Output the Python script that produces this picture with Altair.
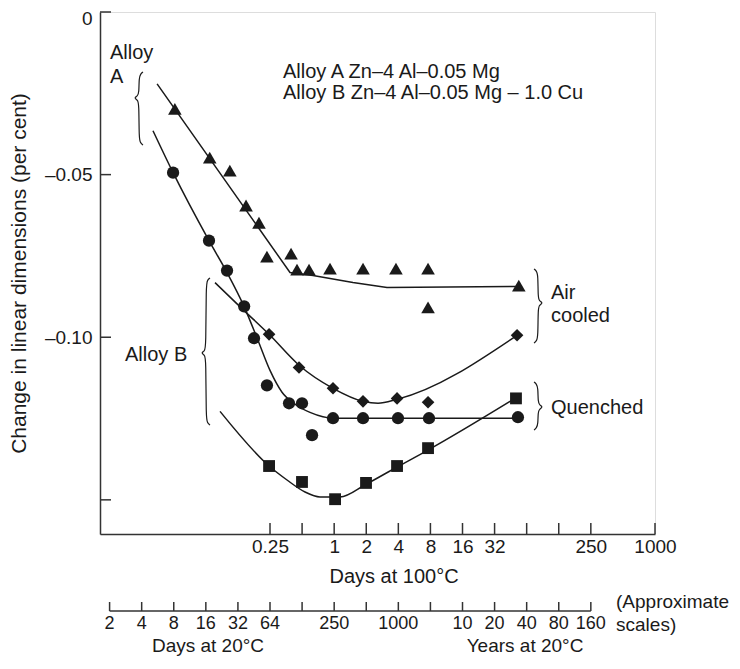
import altair as alt
import pandas as pd

# ---------------- data ----------------
# x: days at 100 degC, y: change in linear dimensions (per cent)
# Alloy A (air cooled) - triangles
tri_x = [0.032, 0.068, 0.105, 0.149, 0.197, 0.234, 0.394, 0.448, 0.581, 0.914, 1.865, 3.8, 7.6, 7.6, 54]
tri_y = [-0.0298, -0.0448, -0.0488, -0.0595, -0.0648, -0.0752, -0.0743, -0.0792, -0.0792,
         -0.0789, -0.0789, -0.0789, -0.0789, -0.0908, -0.0841]
lineA_x = [0.0218, 0.385, 0.633, 1.50, 3.13, 54.3]
lineA_y = [-0.0221, -0.0801, -0.0810, -0.0832, -0.0847, -0.0844]

# Alloy B quenched - circles
cir_x = [0.0308, 0.0669, 0.0988, 0.143, 0.177, 0.234, 0.377, 0.499, 0.62, 0.975, 1.865, 3.97, 7.76, 53]
cir_y = [-0.0494, -0.0703, -0.0795, -0.0905, -0.1003, -0.1148, -0.1203, -0.1203, -0.1301,
         -0.1249, -0.1249, -0.1249, -0.1249, -0.1246]
lineC_x = [0.01995, 0.0308, 0.0669, 0.0988, 0.1426, 0.193, 0.25, 0.324, 0.429, 0.593, 1.0, 53]
lineC_y = [-0.0365, -0.0494, -0.0703, -0.0801, -0.0905, -0.1010, -0.1102, -0.1169, -0.1206,
           -0.1231, -0.1249, -0.1249]

# Alloy B air cooled - diamonds
dia_x = [0.245, 0.468, 0.975, 1.865, 3.89, 7.6, 52]
dia_y = [-0.0991, -0.1093, -0.1157, -0.1197, -0.1188, -0.1200, -0.0994]
lineD_x = [0.0762, 0.1395, 0.245, 0.468, 0.975, 1.865, 2.58, 3.89, 52]
lineD_y = [-0.0832, -0.0915, -0.0991, -0.1086, -0.1157, -0.1197, -0.1203, -0.1191, -0.0994]

# Alloy B quenched (second set) - squares
sq_x = [0.245, 0.499, 1.02, 1.99, 3.89, 7.6, 50.8]
sq_y = [-0.1396, -0.1445, -0.1498, -0.1448, -0.1396, -0.1341, -0.1188]
lineS_x = [0.0849, 0.245, 0.361, 0.533, 0.736, 1.134, 1.99, 3.89, 7.6, 49.8]
lineS_y = [-0.1228, -0.1396, -0.1439, -0.1476, -0.1491, -0.1491, -0.1452, -0.1399, -0.1347, -0.1188]

# axis ticks / labels
y_tick_values = [0, -0.05, -0.10, -0.15]
y_label_values = [0, -0.05, -0.10]
x100_tick_values = [0.25, 0.5, 1, 2, 4, 8, 16, 32, 64, 128, 256, 1024]
x100_label_values = [0.25, 1, 2, 4, 8, 16, 32, 256, 1024]
x20_tick_values = [1/128, 1/64, 1/32, 1/16, 1/8, 1/4, 1/2, 1, 2, 4, 8, 16, 32, 64, 128, 256]
x20_label_pos = [1/128, 1/64, 1/32, 1/16, 1/8, 1/4, 1, 4, 16, 32, 64, 128, 256]
x20_labels = ["2", "4", "8", "16", "32", "64", "250", "1000", "10", "20", "40", "80", "160"]

# ---------------- layout helpers (style, not data) ----------------
XMIN, XMAX = 0.00635, 1024
YMIN, YMAX = -0.1605, 0.0
W, H = 555, 522
TOP = 12          # page y of the plot top
X025 = 270        # page x of the 0.25-day position
PXD = W / 17.30   # pixels per doubling on x
PXU = H / 0.1605  # pixels per unit on y


def ox(d, px):
    """offset a day value by px pixels along the log axis"""
    return d * 2 ** (px / PXD)


def vx(px):
    return ox(0.25, px - X025)


def vy(py):
    return YMAX - (py - TOP) / PXU


FONT = "Liberation Sans"
FS = 20      # annotation text
FT = 19      # tick labels
INK = "#1a1a1a"
AX = "#333333"

xs = alt.Scale(type="log", domain=[XMIN, XMAX], nice=False)
ys = alt.Scale(domain=[YMIN, YMAX], nice=False, zero=False)

X = alt.X("x:Q", scale=xs, axis=alt.Axis(
    values=x100_label_values, title=None, ticks=False, tickSize=0, grid=False,
    labelExpr="datum.value == 256 ? '250' : datum.value == 1024 ? '1000' : datum.value == 0.25 ? '0.25' : format(datum.value, 'd')",
    labelOverlap=False, labelFlush=False, labelPadding=3, labelFont=FONT, labelFontSize=FT,
    labelColor=INK, domainColor=AX, domainWidth=1.5))
Y = alt.Y("y:Q", scale=ys, axis=alt.Axis(
    values=y_label_values, title="Change in linear dimensions (per cent)", ticks=False, tickSize=0,
    grid=False, labelExpr="datum.value == 0 ? '0' : '\u2013' + format(abs(datum.value), '.2f')",
    labelOffset={"condition": {"test": "datum.value == 0", "value": 6}, "value": 0},
    labelOverlap=False, labelPadding=8, labelFont=FONT, labelFontSize=FT, labelColor=INK,
    titleFont=FONT, titleFontSize=21, titleFontWeight="normal", titleColor=INK, titlePadding=15,
    domainColor=AX, domainWidth=1.5))

# ---------------- curves ----------------
linesA = pd.DataFrame({"x": lineA_x, "y": lineA_y})
curveA_layer = alt.Chart(linesA).mark_line(color=INK, strokeWidth=1.5).encode(x=X, y=Y)
lines = pd.concat([
    pd.DataFrame({"x": lineC_x, "y": lineC_y, "s": "C"}),
    pd.DataFrame({"x": lineD_x, "y": lineD_y, "s": "D"}),
    pd.DataFrame({"x": lineS_x, "y": lineS_y, "s": "S"}),
])
curve_layer = alt.Chart(lines).mark_line(color=INK, strokeWidth=1.5, interpolate="monotone").encode(
    x=X, y=Y, detail="s:N")


def pts(xv, yv, shape, size):
    return alt.Chart(pd.DataFrame({"x": xv, "y": yv})).mark_point(
        shape=shape, size=size, filled=True, color=INK, opacity=1).encode(x=X, y=Y)


tri_layer = pts(tri_x, tri_y, "triangle-up", 185)
cir_layer = pts(cir_x, cir_y, "circle", 150)
dia_layer = pts(dia_x, dia_y, "diamond", 160)
sq_layer = pts(sq_x, sq_y, "square", 140)

# ---------------- inward ticks ----------------
xt = pd.DataFrame({"x": x100_tick_values, "y": YMIN, "y2": YMIN + 11 / PXU})
xt_layer = alt.Chart(xt).mark_rule(color=AX, strokeWidth=1.5).encode(x=X, y=Y, y2="y2:Q")
yt = pd.DataFrame({"x": XMIN, "x2": ox(XMIN, 11), "y": y_tick_values})
yt_layer = alt.Chart(yt).mark_rule(color=AX, strokeWidth=1.5).encode(x=X, x2="x2:Q", y=Y)

# ---------------- second scale (days / years at 20 degC) ----------------
AX20 = 611
ax20 = pd.DataFrame({"x": [x20_tick_values[0]], "x2": [x20_tick_values[-1]], "y": [vy(AX20)]})
ax20_layer = alt.Chart(ax20).mark_rule(color=AX, strokeWidth=1.5).encode(x=X, x2="x2:Q", y=Y)
t20 = pd.DataFrame({"x": x20_tick_values, "y": vy(AX20), "y2": vy(AX20 - 9)})
t20_layer = alt.Chart(t20).mark_rule(color=AX, strokeWidth=1.5).encode(x=X, y=Y, y2="y2:Q")
l20 = pd.DataFrame({"x": x20_label_pos, "y": vy(624), "t": x20_labels})
l20_layer = alt.Chart(l20).mark_text(font=FONT, fontSize=18, color=INK, align="center",
                                     baseline="middle").encode(x=X, y=Y, text="t:N")

# ---------------- annotations ----------------
ann_left = pd.DataFrame({
    "x": [vx(283), vx(283), vx(110), vx(110), vx(125), vx(551), vx(551), vx(551)],
    "y": [vy(72), vy(93), vy(53), vy(77), vy(355), vy(293), vy(316), vy(408)],
    "t": ["Alloy A Zn\u20134 Al\u20130.05 Mg", "Alloy B Zn\u20134 Al\u20130.05 Mg \u2013 1.0 Cu",
          "Alloy", "A", "Alloy B", "Air", "cooled", "Quenched"],
})
ann_left_layer = alt.Chart(ann_left).mark_text(font=FONT, fontSize=FS, color=INK, align="left",
                                               baseline="middle").encode(x=X, y=Y, text="t:N")
ann_scale = pd.DataFrame({"x": [vx(616), vx(616)], "y": [vy(602), vy(625)],
                          "t": ["(Approximate", "scales)"]})
ann_scale_layer = alt.Chart(ann_scale).mark_text(font=FONT, fontSize=FT, color=INK, align="left",
                                                 baseline="middle").encode(x=X, y=Y, text="t:N")
ann_mid = pd.DataFrame({"x": [vx(394)], "y": [vy(577)], "t": ["Days at 100\u00b0C"]})
ann_mid_layer = alt.Chart(ann_mid).mark_text(font=FONT, fontSize=FS, color=INK, align="center",
                                             baseline="middle").encode(x=X, y=Y, text="t:N")
ann_bot = pd.DataFrame({"x": [vx(208), vx(525)], "y": [vy(646), vy(646)],
                        "t": ["Days at 20\u00b0C", "Years at 20\u00b0C"]})
ann_bot_layer = alt.Chart(ann_bot).mark_text(font=FONT, fontSize=FT, color=INK, align="center",
                                             baseline="middle").encode(x=X, y=Y, text="t:N")


# braces: spine page-x, top / cusp / bottom page-y, direction -1 = "{", +1 = "}"
def brace(xpx, top, mid, bot, sgn, key):
    pts_ = [(-sgn * 4, top), (-sgn * 1.5, top + 2), (0, top + 6), (0, mid - 5), (sgn * 1.5, mid - 2),
            (sgn * 5, mid), (sgn * 1.5, mid + 2), (0, mid + 5), (0, bot - 6), (-sgn * 1.5, bot - 2),
            (-sgn * 4, bot)]
    return pd.DataFrame({"x": [vx(xpx + p[0]) for p in pts_],
                         "y": [vy(p[1]) for p in pts_],
                         "o": list(range(len(pts_))), "b": key})


braces = pd.concat([
    brace(139, 72, 98, 145, -1, "a"),
    brace(206, 278, 353, 425, -1, "b"),
    brace(538, 269, 303, 343, 1, "c"),
    brace(538, 382, 407, 430, 1, "d"),
])
brace_layer = alt.Chart(braces).mark_line(color=INK, strokeWidth=1.2, interpolate="basis").encode(
    x=X, y=Y, order="o:Q", detail="b:N")

chart = alt.layer(
    curveA_layer, curve_layer, tri_layer, cir_layer, dia_layer, sq_layer,
    xt_layer, yt_layer, ax20_layer, t20_layer, l20_layer,
    ann_left_layer, ann_scale_layer, ann_mid_layer, ann_bot_layer, brace_layer,
).properties(
    width=W, height=H,
    autosize=alt.AutoSizeParams(type="none"),
    padding={"left": 92, "top": 4, "right": 77, "bottom": 123},
).configure_view(stroke=None).configure(background="white")

chart.save("out.html", embed_options={"renderer": "svg", "actions": False})
